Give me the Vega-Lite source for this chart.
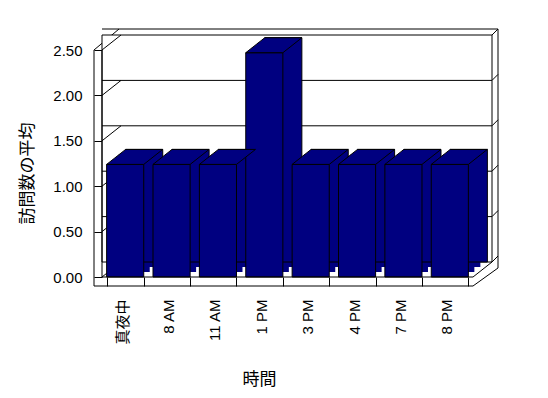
{
  "$schema": "https://vega.github.io/schema/vega-lite/v6.json",
  "width": 371,
  "height": 227,
  "autosize": "none",
  "padding": {"left": 102, "top": 50, "right": 75, "bottom": 121},
  "config": {"view": {"stroke": null}, "font": "Liberation Sans, Noto Sans CJK JP"},
  "datasets": {
    "visits": [
      {"時間": "真夜中", "平均": 1.24},
      {"時間": "8 AM", "平均": 1.24},
      {"時間": "11 AM", "平均": 1.24},
      {"時間": "1 PM", "平均": 2.47},
      {"時間": "3 PM", "平均": 1.24},
      {"時間": "4 PM", "平均": 1.24},
      {"時間": "7 PM", "平均": 1.24},
      {"時間": "8 PM", "平均": 1.24}
    ],
    "grid": [{"v": 0.5}, {"v": 1.0}, {"v": 1.5}, {"v": 2.0}],
    "levels": [{"v": 0}, {"v": 0.5}, {"v": 1.0}, {"v": 1.5}, {"v": 2.0}, {"v": 2.5}],
    "wall": [{"lo": 0, "hi": 2.5}]
  },
  "layer": [
    {
      "data": {"name": "wall"},
      "mark": {"type": "rule", "color": "black", "strokeWidth": 1, "xOffset": 25, "x2Offset": 17, "yOffset": -21},
      "encoding": {"y": {"field": "hi", "type": "quantitative", "scale": {"domain": [0, 2.5], "nice": false}}}
    },
    {
      "data": {"name": "wall"},
      "mark": {"type": "rule", "color": "black", "strokeWidth": 1, "xOffset": 25, "yOffset": -21, "y2Offset": -9},
      "encoding": {
        "x": {"datum": "8 PM", "bandPosition": 1.125},
        "y": {"field": "hi", "type": "quantitative", "scale": {"domain": [0, 2.5], "nice": false}},
        "y2": {"field": "lo"}
      }
    },
    {
      "data": {"name": "wall"},
      "mark": {"type": "rule", "color": "black", "strokeWidth": 1, "xOffset": -8, "x2Offset": 17, "y2Offset": -21},
      "encoding": {
        "x": {"datum": "真夜中", "bandPosition": -0.125},
        "x2": {"datum": "真夜中", "bandPosition": -0.125},
        "y": {"field": "hi", "type": "quantitative", "scale": {"domain": [0, 2.5], "nice": false}},
        "y2": {"field": "hi"}
      }
    },
    {
      "data": {"name": "levels"},
      "mark": {"type": "rule", "color": "black", "strokeWidth": 1, "xOffset": 19, "x2Offset": 25, "yOffset": -15, "y2Offset": -21},
      "encoding": {
        "x": {"datum": "8 PM", "bandPosition": 1.125},
        "x2": {"datum": "8 PM", "bandPosition": 1.125},
        "y": {"field": "v", "type": "quantitative", "scale": {"domain": [0, 2.5], "nice": false}},
        "y2": {"field": "v"}
      }
    },
    {
      "data": {"name": "wall"},
      "mark": {"type": "rect", "fill": "white", "stroke": "black", "strokeWidth": 1, "xOffset": 19, "x2Offset": 19, "yOffset": -15, "y2Offset": -15},
      "encoding": {
        "y": {"field": "lo", "type": "quantitative", "scale": {"domain": [0, 2.5], "nice": false}},
        "y2": {"field": "hi"}
      }
    },
    {
      "data": {"name": "grid"},
      "mark": {"type": "rule", "color": "black", "strokeWidth": 1, "xOffset": 19, "x2Offset": 19, "yOffset": -15},
      "encoding": {"y": {"field": "v", "type": "quantitative", "scale": {"domain": [0, 2.5], "nice": false}}}
    },
    {
      "data": {"name": "levels"},
      "mark": {"type": "rule", "color": "black", "strokeWidth": 1, "x2Offset": 19, "y2Offset": -15},
      "encoding": {
        "x": {"datum": "真夜中", "bandPosition": -0.125},
        "x2": {"datum": "真夜中", "bandPosition": -0.125},
        "y": {"field": "v", "type": "quantitative", "scale": {"domain": [0, 2.5], "nice": false}},
        "y2": {"field": "v"}
      }
    },
    {
      "data": {"name": "wall"},
      "mark": {"type": "rule", "color": "black", "strokeWidth": 1},
      "encoding": {
        "x": {"datum": "真夜中", "bandPosition": -0.125},
        "y": {"field": "hi", "type": "quantitative", "scale": {"domain": [0, 2.5], "nice": false}},
        "y2": {"field": "lo"}
      }
    },
    {
      "data": {"name": "wall"},
      "mark": {"type": "rule", "color": "black", "strokeWidth": 1, "xOffset": -8, "y2Offset": 9},
      "encoding": {
        "x": {"datum": "真夜中", "bandPosition": -0.125},
        "y": {"field": "hi", "type": "quantitative", "scale": {"domain": [0, 2.5], "nice": false}},
        "y2": {"field": "lo"}
      }
    },
    {
      "data": {"name": "visits"},
      "mark": {"type": "bar", "fill": "#000080", "strokeWidth": 0, "xOffset": 6, "yOffset": -5},
      "encoding": {
        "x": {"field": "時間", "type": "nominal", "sort": null},
        "y": {"field": "平均", "type": "quantitative", "scale": {"domain": [0, 2.5], "nice": false}}
      }
    },
    {
      "data": {"name": "visits"},
      "mark": {"type": "bar", "fill": "#000080", "strokeWidth": 0, "xOffset": 12, "yOffset": -10},
      "encoding": {
        "x": {"field": "時間", "type": "nominal", "sort": null},
        "y": {"field": "平均", "type": "quantitative", "scale": {"domain": [0, 2.5], "nice": false}}
      }
    },
    {
      "data": {"name": "visits"},
      "mark": {"type": "bar", "fill": "#000080", "stroke": "black", "strokeWidth": 1, "xOffset": 19, "yOffset": -15},
      "encoding": {
        "x": {"field": "時間", "type": "nominal", "sort": null},
        "y": {"field": "平均", "type": "quantitative", "scale": {"domain": [0, 2.5], "nice": false}}
      }
    },
    {
      "data": {"name": "visits"},
      "mark": {"type": "bar", "fill": "#000080", "stroke": "black", "strokeWidth": 1},
      "encoding": {
        "x": {
          "field": "時間", "type": "nominal", "sort": null,
          "scale": {"domain": ["真夜中", "8 AM", "11 AM", "1 PM", "3 PM", "4 PM", "7 PM", "8 PM"], "paddingInner": 0.2, "paddingOuter": 0.1},
          "axis": {
            "title": "時間", "offset": 9, "domain": false, "labelAngle": -90, "labelFontSize": 15, "labelPadding": 22,
            "labelOffset": -3,
            "tickBand": "extent", "tickSize": -9, "tickColor": "black",
            "labelColor": "black", "titleColor": "black", "titleX": 157,
            "titleFont": "Noto Sans CJK JP", "titleFontSize": 17, "titleFontWeight": "normal", "titlePadding": 27
          }
        },
        "y": {
          "field": "平均", "type": "quantitative", "scale": {"domain": [0, 2.5], "nice": false},
          "axis": {
            "title": "訪問数の平均", "offset": 8, "domain": false, "values": [0, 0.5, 1, 1.5, 2, 2.5], "format": ".2f",
            "tickSize": -8, "tickColor": "black", "labelPadding": 20, "labelFontSize": 15, "labelColor": "black",
            "grid": false, "titleColor": "black", "titleY": 123,
            "titleFont": "Noto Sans CJK JP", "titleFontSize": 17, "titleFontWeight": "normal", "titlePadding": 16
          }
        }
      }
    },
    {
      "data": {"name": "visits"},
      "mark": {"type": "point", "shape": "M-0.4638,0L0.4638,0L0.9388,-0.375L0.0113,-0.375Z", "size": 6400, "filled": true, "fill": "#000080", "stroke": "black", "strokeWidth": 1, "opacity": 1, "fillOpacity": 1, "strokeOpacity": 1},
      "encoding": {
        "x": {"field": "時間", "type": "nominal", "sort": null},
        "y": {"field": "平均", "type": "quantitative", "scale": {"domain": [0, 2.5], "nice": false}}
      }
    },
    {
      "data": {"name": "wall"},
      "mark": {"type": "rule", "color": "black", "strokeWidth": 1},
      "encoding": {"y": {"field": "lo", "type": "quantitative", "scale": {"domain": [0, 2.5], "nice": false}}}
    },
    {
      "data": {"name": "wall"},
      "mark": {"type": "rule", "color": "black", "strokeWidth": 1, "xOffset": -8, "yOffset": 9, "y2Offset": 9},
      "encoding": {
        "x": {"datum": "真夜中", "bandPosition": -0.125},
        "x2": {"datum": "8 PM", "bandPosition": 1.125},
        "y": {"field": "lo", "type": "quantitative", "scale": {"domain": [0, 2.5], "nice": false}},
        "y2": {"field": "lo"}
      }
    },
    {
      "data": {"name": "wall"},
      "mark": {"type": "rule", "color": "black", "strokeWidth": 1, "x2Offset": 19, "y2Offset": -15},
      "encoding": {
        "x": {"datum": "8 PM", "bandPosition": 1.125},
        "x2": {"datum": "8 PM", "bandPosition": 1.125},
        "y": {"field": "lo", "type": "quantitative", "scale": {"domain": [0, 2.5], "nice": false}},
        "y2": {"field": "lo"}
      }
    },
    {
      "data": {"name": "wall"},
      "mark": {"type": "rule", "color": "black", "strokeWidth": 1, "x2Offset": 25, "yOffset": 9, "y2Offset": -9},
      "encoding": {
        "x": {"datum": "8 PM", "bandPosition": 1.125},
        "x2": {"datum": "8 PM", "bandPosition": 1.125},
        "y": {"field": "lo", "type": "quantitative", "scale": {"domain": [0, 2.5], "nice": false}},
        "y2": {"field": "lo"}
      }
    }
  ]
}
